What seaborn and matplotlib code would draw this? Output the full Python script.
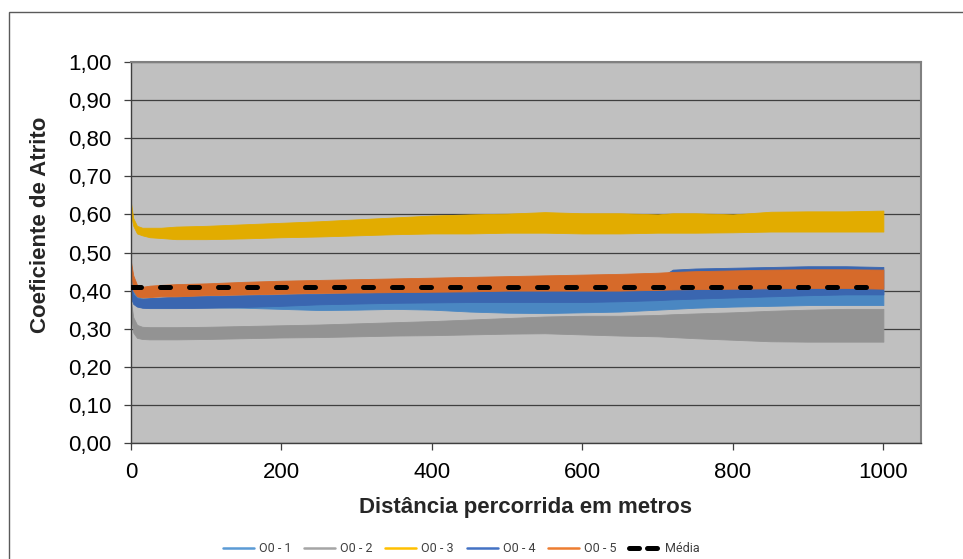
import numpy as np
import pandas as pd
import matplotlib
matplotlib.use("Agg")
import matplotlib.pyplot as plt
import matplotlib.patches as mpatches
from matplotlib.lines import Line2D
import seaborn as sns

# ---- data ----
dist = [0, 3, 8, 15, 25, 40, 60, 100, 150, 200, 250, 300, 350, 400, 450, 500,
        550, 600, 650, 700, 720, 750, 800, 850, 900, 950, 1000]

o1_hi = [0.44, 0.40, 0.385, 0.38, 0.38, 0.38, 0.38, 0.38, 0.382, 0.384, 0.386, 0.388, 0.39, 0.392,
         0.394, 0.396, 0.398, 0.40, 0.40, 0.40, 0.40, 0.40, 0.40, 0.40, 0.40, 0.40, 0.40]
o1_lo = [0.40, 0.37, 0.36, 0.356, 0.356, 0.356, 0.356, 0.356, 0.355, 0.352, 0.349, 0.350, 0.352, 0.350,
         0.345, 0.342, 0.341, 0.343, 0.345, 0.350, 0.352, 0.355, 0.358, 0.360, 0.362, 0.362, 0.362]

o2_hi = [0.37, 0.33, 0.31, 0.305, 0.304, 0.304, 0.304, 0.305, 0.307, 0.309, 0.311, 0.314, 0.317, 0.32,
         0.324, 0.328, 0.332, 0.334, 0.334, 0.336, 0.338, 0.340, 0.343, 0.347, 0.350, 0.352, 0.352]
o2_lo = [0.34, 0.29, 0.276, 0.273, 0.272, 0.272, 0.272, 0.273, 0.275, 0.277, 0.278, 0.28, 0.282, 0.283,
         0.285, 0.287, 0.288, 0.285, 0.282, 0.28, 0.278, 0.275, 0.271, 0.267, 0.266, 0.266, 0.266]

o3_hi = [0.63, 0.59, 0.57, 0.565, 0.565, 0.565, 0.568, 0.57, 0.574, 0.578, 0.582, 0.587, 0.592, 0.597,
         0.60, 0.602, 0.606, 0.603, 0.603, 0.60, 0.603, 0.603, 0.60, 0.607, 0.608, 0.608, 0.61]
o3_lo = [0.60, 0.57, 0.55, 0.545, 0.54, 0.538, 0.535, 0.535, 0.537, 0.54, 0.542, 0.545, 0.548, 0.55,
         0.55, 0.552, 0.552, 0.55, 0.55, 0.552, 0.552, 0.552, 0.553, 0.555, 0.555, 0.555, 0.555]

o4_hi = [0.41, 0.39, 0.38, 0.378, 0.38, 0.382, 0.384, 0.386, 0.388, 0.39, 0.392, 0.394, 0.396, 0.398,
         0.40, 0.402, 0.404, 0.406, 0.41, 0.43, 0.455, 0.458, 0.46, 0.462, 0.464, 0.464, 0.462]
o4_lo = [0.38, 0.365, 0.358, 0.355, 0.354, 0.354, 0.354, 0.355, 0.357, 0.360, 0.364, 0.366, 0.368, 0.369,
         0.370, 0.370, 0.370, 0.370, 0.372, 0.375, 0.377, 0.379, 0.382, 0.385, 0.388, 0.39, 0.39]

o5_hi = [0.475, 0.44, 0.415, 0.41, 0.413, 0.415, 0.417, 0.419, 0.423, 0.426, 0.428, 0.430, 0.432, 0.434,
         0.436, 0.438, 0.440, 0.442, 0.444, 0.447, 0.449, 0.451, 0.453, 0.455, 0.456, 0.456, 0.455]
o5_lo = [0.45, 0.40, 0.385, 0.382, 0.383, 0.385, 0.385, 0.388, 0.39, 0.392, 0.394, 0.395, 0.396, 0.397,
         0.398, 0.40, 0.40, 0.40, 0.40, 0.402, 0.403, 0.404, 0.405, 0.406, 0.407, 0.407, 0.405]

media_x = [0, 1000]
media_y = [0.41, 0.41]

series_names = ["O0 - 1", "O0 - 2", "O0 - 3", "O0 - 4", "O0 - 5"]
band_colors = ["#4A87C2", "#939393", "#E2AC00", "#3A66B0", "#D66A2A"]
legend_colors = ["#5B9BD5", "#A5A5A5", "#FFC000", "#4472C4", "#ED7D31"]

y_ticks = [0.0, 0.1, 0.2, 0.3, 0.4, 0.5, 0.6, 0.7, 0.8, 0.9, 1.0]
x_ticks = [0, 200, 400, 600, 800, 1000]

# ---- build long table: low and high value per distance -> band min..max ----
rows = []
for name, lo, hi in zip(series_names,
                        [o1_lo, o2_lo, o3_lo, o4_lo, o5_lo],
                        [o1_hi, o2_hi, o3_hi, o4_hi, o5_hi]):
    for d, l, h in zip(dist, lo, hi):
        rows.append((name, d, l))
        rows.append((name, d, h))
df = pd.DataFrame(rows, columns=["serie", "dist", "coef"])
df_media = pd.DataFrame({"dist": media_x, "coef": media_y})

# ---- figure ----
sns.set_style("white")
plt.rcParams["font.family"] = ["Liberation Sans", "DejaVu Sans"]

fig = plt.figure(figsize=(9.63, 5.59), dpi=100)
ax = fig.add_axes([131 / 963, 1 - 443 / 559, 790 / 963, 381 / 559])
ax.set_facecolor("#C0C0C0")

sns.lineplot(data=df, x="dist", y="coef", hue="serie", hue_order=series_names,
             palette=dict(zip(series_names, band_colors)), estimator="mean",
             errorbar=("pi", 100), err_kws={"alpha": 1, "linewidth": 0.6},
             linewidth=0, legend=False, ax=ax)

sns.lineplot(data=df_media, x="dist", y="coef", color="black", linewidth=3.6,
             ax=ax, legend=False)
media_line = ax.lines[-1]
media_line.set_dashes((2.0, 3.8))
media_line.set_dash_capstyle("round")
media_line.set_zorder(5)

ax.set_xlim(0, 1050)
ax.set_ylim(0, 1.0)
ax.set_xticks(x_ticks)
ax.set_yticks(y_ticks)
ax.set_yticklabels([f"{v:.2f}".replace(".", ",") for v in y_ticks])
ax.set_xticklabels([str(v) for v in x_ticks])

ax.yaxis.grid(True, color="#3F3F3F", linewidth=0.9)
ax.xaxis.grid(False)
ax.set_axisbelow(True)

ax.tick_params(axis="both", labelsize=16, colors="black", direction="out",
               length=5, width=0.9)
ax.tick_params(axis="x", pad=9, color="#3F3F3F")
ax.tick_params(axis="y", pad=9, color="#3F3F3F")
ax.xaxis.set_ticks_position("bottom")
ax.yaxis.set_ticks_position("left")

for side in ["top", "right"]:
    ax.spines[side].set_color("#808080")
    ax.spines[side].set_linewidth(1.5)
for side in ["left", "bottom"]:
    ax.spines[side].set_color("#3F3F3F")
    ax.spines[side].set_linewidth(1.0)

ax.set_xlabel("Distância percorrida em metros", fontsize=16, fontweight="bold")
ax.set_ylabel("Coeficiente de Atrito", fontsize=16, fontweight="bold")
ax.xaxis.set_label_coords(0.499, -0.168)
ax.xaxis.label.set_va("center")
ax.yaxis.set_label_coords(-0.115, 0.572)
ax.yaxis.label.set_va("center")

# legend
handles = [Line2D([], [], color=c, linewidth=1.8) for c in legend_colors]
mh = Line2D([], [], color="black", linewidth=3.6, dash_capstyle="round")
mh.set_dashes((2.0, 1.6))
handles.append(mh)
labels = series_names + ["Média"]
leg = fig.legend(handles, labels, loc="center", bbox_to_anchor=(0.479, 0.019),
                 ncol=6, frameon=False, handlelength=2.5, handletextpad=0.4,
                 columnspacing=1.0, prop={"family": ["Roboto", "DejaVu Sans"], "size": 9})
for t in leg.get_texts():
    t.set_color("#404040")

# outer chart border
fig.patches.append(mpatches.Rectangle((8.5 / 963, -0.05), 1.2, 1 - 11.5 / 559 + 0.05,
                                      transform=fig.transFigure, fill=False,
                                      edgecolor="#5A5A5A", linewidth=1.0))

fig.savefig("out.png", dpi=100, facecolor="white")
